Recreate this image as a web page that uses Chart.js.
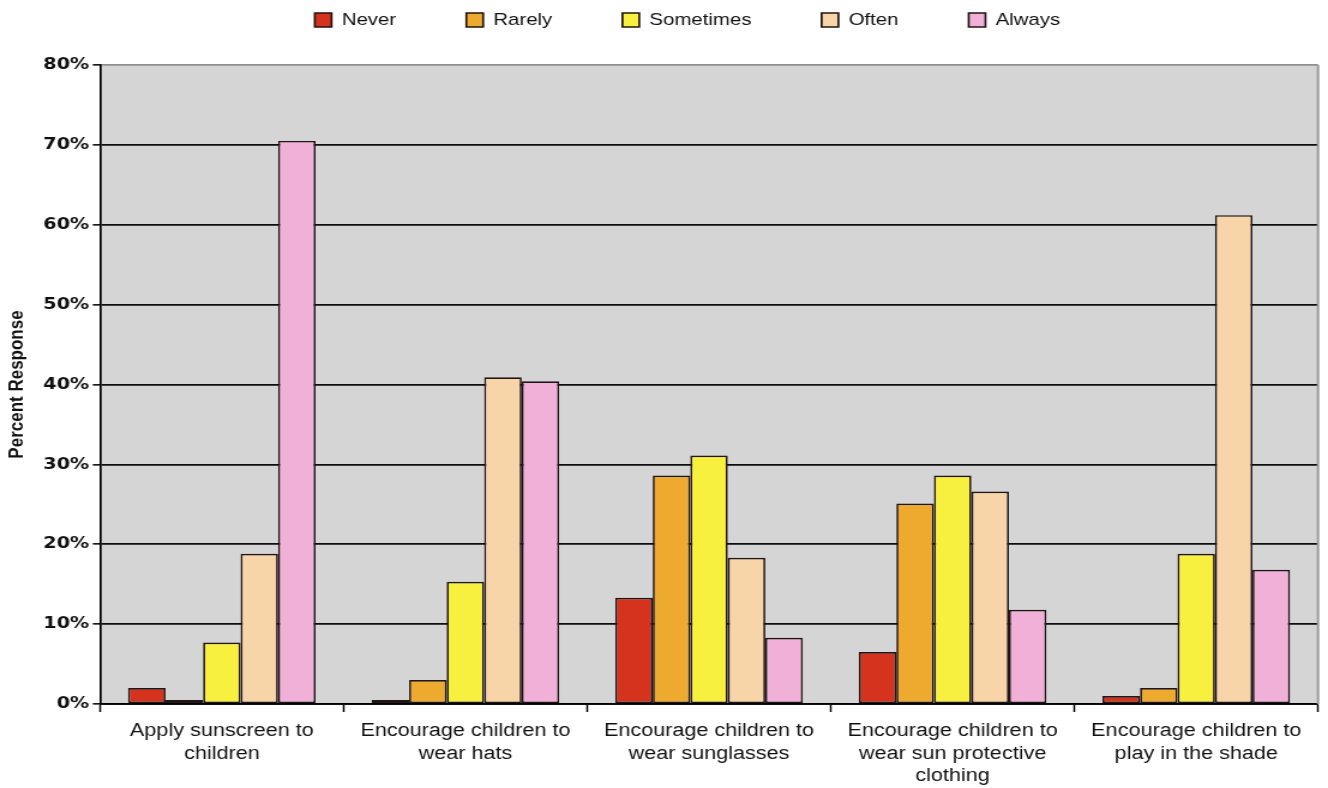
<!DOCTYPE html>
<html>
<head>
<meta charset="utf-8">
<script src="https://cdn.jsdelivr.net/npm/chart.js@4/dist/chart.umd.min.js"></script>
<style>
  html, body { margin: 0; padding: 0; background: #ffffff; }
</style>
</head>
<body>
<canvas id="c" width="1107" height="788" style="display:block;width:1328px;height:788px;"></canvas>
<script>
const categories = [
  ["Apply sunscreen to", "children"],
  ["Encourage children to", "wear hats"],
  ["Encourage children to", "wear sunglasses"],
  ["Encourage children to", "wear sun protective", "clothing"],
  ["Encourage children to", "play in the shade"]
];
const seriesNames = ["Never", "Rarely", "Sometimes", "Often", "Always"];
const never     = [2.0, 0.5, 13.3, 6.5, 1.0];
const rarely    = [0.5, 3.0, 28.6, 25.1, 2.0];
const sometimes = [7.7, 15.3, 31.1, 28.6, 18.8];
const often     = [18.8, 40.9, 18.3, 26.6, 61.2];
const always    = [70.5, 40.4, 8.3, 11.8, 16.8];
const yTickValues = [0, 10, 20, 30, 40, 50, 60, 70, 80];
const seriesColors = ["#d5331d", "#eeaa2f", "#f8f03e", "#f8d4a9", "#f0b0d7"];

const seriesData = [never, rarely, sometimes, often, always];

const plotBackground = {
  id: 'plotBackground',
  afterLayout(chart) {
    // centre the legend row over the same spot as the reference
    const dx = 23.75;
    chart.legend.left += dx;
    chart.legend.right += dx;
  },
  beforeDraw(chart) {
    const { ctx, chartArea: a } = chart;
    ctx.save();
    ctx.fillStyle = '#d5d5d5';
    ctx.fillRect(a.left, a.top, a.right - a.left, a.bottom - a.top);
    ctx.restore();
  },
  afterDraw(chart) {
    const { ctx, chartArea: a } = chart;
    ctx.save();
    ctx.strokeStyle = '#9a9a9a';
    ctx.lineWidth = 2;
    ctx.beginPath();
    ctx.moveTo(a.right, a.top);
    ctx.lineTo(a.right, a.bottom);
    ctx.stroke();
    ctx.restore();
  }
};

new Chart(document.getElementById('c'), {
  type: 'bar',
  data: {
    labels: categories,
    datasets: seriesNames.map((name, i) => ({
      label: name,
      data: seriesData[i],
      backgroundColor: seriesColors[i],
      borderColor: '#221515',
      borderWidth: 1.7,
      borderSkipped: false,
      categoryPercentage: 0.77,
      barPercentage: 1.0
    }))
  },
  options: {
    responsive: false,
    animation: false,
    devicePixelRatio: 1,
    layout: { padding: { top: -47, left: 0, right: 8.3, bottom: 0 } },
    plugins: {
      legend: {
        display: true,
        position: 'top',
        align: 'center',
        labels: {
          boxWidth: 14,
          boxHeight: 14,
          padding: 58.5,
          color: '#111',
          font: { family: 'Liberation Sans, Arial, sans-serif', size: 17 }
        }
      },
      title: {
        display: true,
        text: '',
        weight: 500,
        padding: 0,
        font: { size: 10, lineHeight: '26.5px' }
      },
      tooltip: { enabled: false }
    },
    scales: {
      x: {
        grid: {
          display: true,
          offset: true,
          drawOnChartArea: false,
          drawTicks: true,
          tickLength: 8,
          tickColor: '#000',
          tickWidth: 1.5
        },
        border: { display: true, color: '#000', width: 1.7 },
        ticks: {
          autoSkip: false,
          maxRotation: 0,
          minRotation: 0,
          padding: 8,
          color: '#111',
          font: { family: 'Liberation Sans, Arial, sans-serif', size: 18, lineHeight: 1.25 }
        },
        afterFit(scale) { scale.height = 84; }
      },
      y: {
        min: 0,
        max: 80,
        afterBuildTicks(scale) { scale.ticks = yTickValues.map(v => ({ value: v })); },
        grid: {
          color: (c) => (c.tick && c.tick.value === 80) ? '#8f8f8f' : '#0d0d0d',
          lineWidth: 1.7,
          drawTicks: true,
          tickLength: 6,
          tickColor: '#000',
          tickWidth: 1.5
        },
        border: { display: true, color: '#000', width: 1.7 },
        ticks: {
          padding: 3,
          color: '#111',
          font: { family: 'DejaVu Sans, Verdana, sans-serif', size: 16, weight: 'bold' },
          callback: (v) => v + '%'
        },
        title: {
          display: true,
          text: 'Percent Response',
          color: '#111',
          padding: { top: 4.2, bottom: 0 },
          font: { family: 'Liberation Sans, Arial, sans-serif', size: 17, weight: 'bold' }
        },
        afterFit(scale) { scale.width = 83.36; }
      }
    }
  },
  plugins: [plotBackground]
});
</script>
</body>
</html>
